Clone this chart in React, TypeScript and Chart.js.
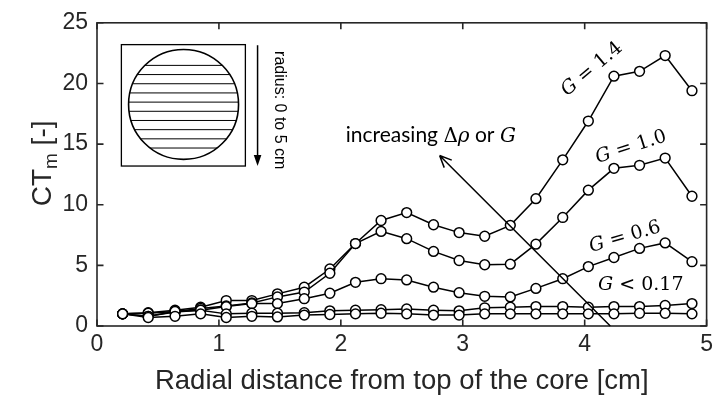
import { useEffect, useRef } from "react";
import { Chart, registerables } from "chart.js";

Chart.register(...registerables);

// ---- data ----
const radialDistance = [0.21, 0.42, 0.64, 0.85, 1.06, 1.27, 1.48, 1.70, 1.91, 2.12, 2.33, 2.54, 2.76, 2.97, 3.18, 3.39, 3.60, 3.82, 4.03, 4.24, 4.45, 4.66, 4.88];
const ctG14 = [1.0, 1.1, 1.3, 1.55, 2.1, 2.1, 2.65, 3.2, 4.7, 6.8, 8.7, 9.35, 8.35, 7.7, 7.4, 8.3, 10.5, 13.7, 16.9, 20.6, 21.0, 22.3, 19.4];
const ctG10 = [1.0, 1.05, 1.2, 1.45, 1.65, 1.9, 2.4, 2.8, 4.35, 6.8, 7.8, 7.2, 6.15, 5.4, 5.05, 5.1, 6.75, 8.95, 11.2, 13.0, 13.25, 13.85, 10.7];
const ctG06 = [1.0, 0.8, 1.15, 1.3, 1.6, 1.85, 1.85, 2.25, 2.7, 3.6, 3.9, 3.8, 3.2, 2.75, 2.45, 2.4, 3.1, 3.9, 4.9, 5.65, 6.4, 6.85, 5.3];
const ctLowA = [1.0, 0.8, 1.2, 1.3, 1.0, 1.05, 1.05, 1.1, 1.25, 1.3, 1.35, 1.4, 1.3, 1.25, 1.5, 1.55, 1.6, 1.6, 1.55, 1.6, 1.6, 1.7, 1.85];
const ctLowB = [1.0, 0.7, 0.8, 1.0, 0.7, 0.8, 0.75, 0.9, 0.95, 1.0, 1.05, 1.0, 0.9, 0.9, 1.0, 1.0, 1.0, 1.0, 1.0, 1.0, 1.05, 1.05, 1.0];
const seriesList = [ctLowB, ctLowA, ctG06, ctG10, ctG14];

const xTicks = [0, 1, 2, 3, 4, 5];
const yTicks = [0, 5, 10, 15, 20, 25];
const xTitle = "Radial distance from top of the core [cm]";
const insetLabel = "radius: 0 to 5 cm";
const gLabels = [
  { text: "1.4", op: "=", x: 4.06, y: 21.17, angle: -40 },
  { text: "1.0", op: "=", x: 4.38, y: 14.74, angle: -17.6 },
  { text: "0.6", op: "=", x: 4.33, y: 7.33, angle: -16 },
  { text: "0.17", op: "<", x: 4.46, y: 3.34, angle: 0 },
];

const AXIS = "#262626";
const SANS = "'Liberation Sans', Arial, Helvetica, sans-serif";
const SERIF = "'DejaVu Serif', 'Liberation Serif', serif";
const CAL = "Lato, 'Open Sans', sans-serif";

const decorPlugin = {
  id: "decor",
  afterDraw(chart: any) {
    const { ctx, chartArea, scales } = chart;
    const { left, right, top, bottom } = chartArea;
    const xs = scales.x;
    const ys = scales.y;
    const px = (v: number) => xs.getPixelForValue(v);
    const py = (v: number) => ys.getPixelForValue(v);
    ctx.save();

    // axes box + inward ticks
    ctx.strokeStyle = AXIS;
    ctx.lineWidth = 1.6;
    ctx.strokeRect(left, top, right - left, bottom - top);
    const tl = 6.5;
    ctx.beginPath();
    xTicks.forEach((v) => {
      const p = px(v);
      ctx.moveTo(p, bottom);
      ctx.lineTo(p, bottom - tl);
      ctx.moveTo(p, top);
      ctx.lineTo(p, top + tl);
    });
    yTicks.forEach((v) => {
      const p = py(v);
      ctx.moveTo(left, p);
      ctx.lineTo(left + tl, p);
      ctx.moveTo(right, p);
      ctx.lineTo(right - tl, p);
    });
    ctx.stroke();

    // x title
    ctx.fillStyle = AXIS;
    ctx.font = `27.5px ${SANS}`;
    ctx.textAlign = "center";
    ctx.textBaseline = "middle";
    ctx.fillText(xTitle, (left + right) / 2, 381);

    // y title CT_m [-]
    ctx.save();
    ctx.translate(51, (top + bottom) / 2 - 11);
    ctx.rotate(-Math.PI / 2);
    ctx.textBaseline = "alphabetic";
    ctx.textAlign = "left";
    const big = `28px ${SANS}`;
    const small = `19px ${SANS}`;
    ctx.font = big;
    const w1 = ctx.measureText("CT").width;
    const w3 = ctx.measureText(" [-]").width;
    ctx.font = small;
    const w2 = ctx.measureText("m").width;
    let cx = -(w1 + w2 + w3) / 2;
    ctx.font = big;
    ctx.fillText("CT", cx, 0);
    cx += w1;
    ctx.font = small;
    ctx.fillText("m", cx, 6);
    cx += w2;
    ctx.font = big;
    ctx.fillText(" [-]", cx, 0);
    ctx.restore();

    // inset: box, hatched circle, arrow, label
    ctx.strokeStyle = "#000";
    ctx.fillStyle = "#000";
    ctx.lineWidth = 1.3;
    const bx0 = px(0.2), bx1 = px(1.217), by0 = py(23.2), by1 = py(13.19);
    ctx.strokeRect(bx0, by0, bx1 - bx0, by1 - by0);
    const ccx = px(0.71), ccy = py(18.27);
    const r = px(0.71 + 0.451) - ccx;
    ctx.lineWidth = 1;
    ctx.beginPath();
    for (let k = 0; k < 10; k++) {
      const dy = r * (-0.71 + k * 0.167);
      const hc = Math.sqrt(Math.max(0, r * r - dy * dy));
      ctx.moveTo(ccx - hc, ccy + dy);
      ctx.lineTo(ccx + hc, ccy + dy);
    }
    ctx.stroke();
    ctx.lineWidth = 1.6;
    ctx.beginPath();
    ctx.arc(ccx, ccy, r, 0, Math.PI * 2);
    ctx.stroke();

    const ax = px(1.317), ay0 = py(23.15), ay1 = py(13.19);
    ctx.lineWidth = 1.5;
    ctx.beginPath();
    ctx.moveTo(ax, ay0);
    ctx.lineTo(ax, ay1 - 9);
    ctx.stroke();
    ctx.beginPath();
    ctx.moveTo(ax, ay1);
    ctx.lineTo(ax - 3.8, ay1 - 11);
    ctx.lineTo(ax + 3.8, ay1 - 11);
    ctx.closePath();
    ctx.fill();

    ctx.save();
    ctx.translate(px(1.497), py(17.79));
    ctx.rotate(Math.PI / 2);
    ctx.font = `16px ${SANS}`;
    ctx.textAlign = "center";
    ctx.textBaseline = "middle";
    ctx.fillText(insetLabel, 0, 0);
    ctx.restore();

    // "increasing Δρ or G" arrow
    const sx = px(4.21), sy = py(0), ex = px(2.81), ey = py(14.06);
    ctx.lineWidth = 1.5;
    ctx.beginPath();
    ctx.moveTo(sx, sy);
    ctx.lineTo(ex, ey);
    const ang = Math.atan2(ey - sy, ex - sx);
    const hl = 13;
    ctx.moveTo(ex, ey);
    ctx.lineTo(ex - hl * Math.cos(ang - 0.42), ey - hl * Math.sin(ang - 0.42));
    ctx.moveTo(ex, ey);
    ctx.lineTo(ex - hl * Math.cos(ang + 0.42), ey - hl * Math.sin(ang + 0.42));
    ctx.stroke();

    const parts = [
      { t: "increasing ", f: `21px ${CAL}` },
      { t: "Δ", f: `20px ${SERIF}` },
      { t: "ρ", f: `italic 20px ${SERIF}` },
      { t: " or ", f: `21px ${CAL}` },
      { t: "G", f: `italic 20px ${SERIF}` },
    ];
    ctx.textAlign = "left";
    ctx.textBaseline = "alphabetic";
    let tx = px(2.04);
    const tby = py(15.72) + 7;
    parts.forEach((p) => {
      ctx.font = p.f;
      ctx.fillText(p.t, tx, tby);
      tx += ctx.measureText(p.t).width;
    });

    // G labels
    gLabels.forEach((g) => {
      ctx.save();
      ctx.translate(px(g.x), py(g.y));
      ctx.rotate((g.angle * Math.PI) / 180);
      const segs = [
        { t: "G", f: `italic 19px ${SERIF}` },
        { t: ` ${g.op} `, f: `19px ${SERIF}` },
        { t: g.text, f: `19px ${SERIF}` },
      ];
      let tw = 0;
      segs.forEach((s) => {
        ctx.font = s.f;
        tw += ctx.measureText(s.t).width;
      });
      let lx = -tw / 2;
      ctx.textAlign = "left";
      ctx.textBaseline = "middle";
      segs.forEach((s) => {
        ctx.font = s.f;
        ctx.fillText(s.t, lx, 0);
        lx += ctx.measureText(s.t).width;
      });
      ctx.restore();
    });

    ctx.restore();
  },
};

export default function App() {
  const canvasRef = useRef<HTMLCanvasElement | null>(null);

  useEffect(() => {
    const canvas = canvasRef.current;
    if (!canvas) return;
    const datasets = seriesList.map((vals) => ({
      data: radialDistance.map((x, i) => ({ x, y: vals[i] })),
      showLine: true,
      borderColor: "#000",
      borderWidth: 1.5,
      pointRadius: 4.9,
      pointBackgroundColor: "#fff",
      pointBorderColor: "#000",
      pointBorderWidth: 1.5,
      tension: 0,
      clip: false as any,
    }));
    const chart = new Chart(canvas, {
      type: "scatter",
      data: { datasets },
      options: {
        responsive: false,
        animation: false,
        devicePixelRatio: 1,
        layout: { padding: { top: 19, right: 6, left: 0, bottom: 0 } },
        plugins: { legend: { display: false }, tooltip: { enabled: false } },
        scales: {
          x: {
            type: "linear",
            min: 0,
            max: 5,
            afterFit: (s: any) => {
              s.height = 74;
            },
            afterBuildTicks: (s: any) => {
              s.ticks = xTicks.map((v) => ({ value: v }));
            },
            ticks: {
              font: { family: SANS, size: 23 },
              color: AXIS,
              padding: 5,
              maxRotation: 0,
              autoSkip: false,
            },
            grid: { display: false, drawTicks: false },
            border: { display: false },
          },
          y: {
            type: "linear",
            min: 0,
            max: 25,
            afterFit: (s: any) => {
              s.width = 97;
            },
            afterBuildTicks: (s: any) => {
              s.ticks = yTicks.map((v) => ({ value: v }));
            },
            ticks: {
              font: { family: SANS, size: 23 },
              color: AXIS,
              padding: 9,
              autoSkip: false,
            },
            grid: { display: false, drawTicks: false },
            border: { display: false },
          },
        },
      },
      plugins: [decorPlugin],
    });
    return () => chart.destroy();
  }, []);

  return (
    <div style={{ position: "absolute", left: 0, top: 0, width: 718, height: 400, background: "#fff" }}>
      <canvas ref={canvasRef} width={718} height={400} style={{ width: 718, height: 400, display: "block" }} />
    </div>
  );
}
